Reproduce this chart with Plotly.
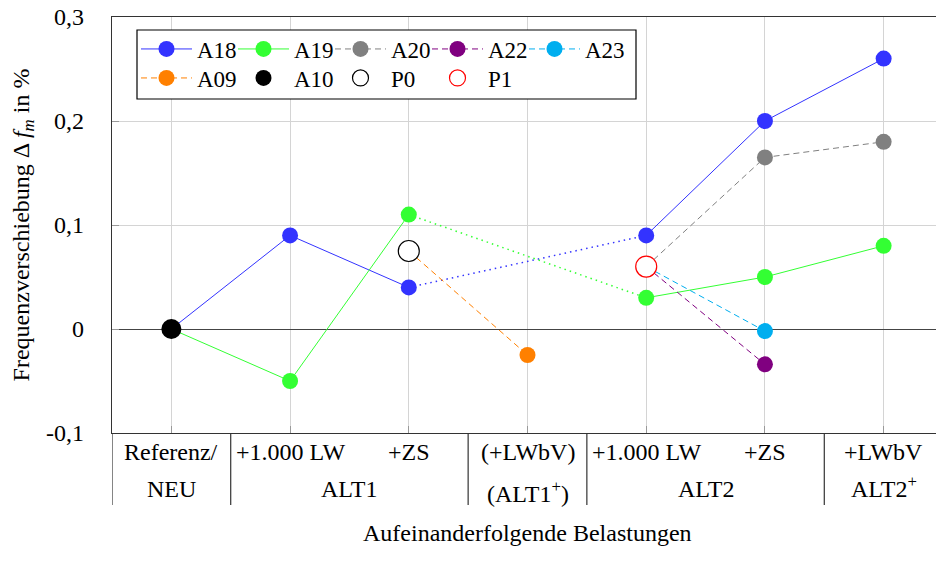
import plotly.graph_objects as go

# ---------------- data ----------------
stages = [0, 1, 2, 3, 4, 5, 6]
stage_labels = ["Referenz/", "+1.000 LW", "+ZS", "(+LWbV)", "+1.000 LW", "+ZS", "+LWbV"]
group_labels = ["NEU", "ALT1", "(ALT1<sup>+</sup>)", "ALT2", "ALT2<sup>+</sup>"]
group_spans = [(0, 0), (1, 2), (3, 3), (4, 5), (6, 6)]

A18 = [0.0, 0.09, 0.04, None, 0.09, 0.20, 0.26]
A19 = [0.0, -0.05, 0.11, None, 0.03, 0.05, 0.08]
P0 = 0.075   # at stage 2
P1 = 0.06    # at stage 4
A09 = -0.025  # at stage 3 (from P0)
A20 = [0.165, 0.18]  # stages 5, 6 (from P1)
A22 = -0.034  # stage 5 (from P1)
A23 = -0.002  # stage 5 (from P1)
A10 = 0.0     # stage 0

yticks = [-0.1, 0.0, 0.1, 0.2, 0.3]
yticktext = ["-0,1", "0", "0,1", "0,2", "0,3"]

# ---------------- style ----------------
FONT = "Liberation Serif"
FS = 24
C18 = "#3333ff"
C19 = "#33ff33"
C20 = "#808080"
C22 = "#800080"
C23 = "#00aeef"
C09 = "#ff8000"
MS = 16
DASH = "6px,4px"
DOT = "1.5px,4px"

fig = go.Figure()

# dotted connections across the gap
fig.add_trace(go.Scatter(x=[2, 4], y=[A18[2], A18[4]], mode="lines",
                         line=dict(color=C18, width=1.5, dash=DOT), showlegend=False, hoverinfo="skip"))
fig.add_trace(go.Scatter(x=[2, 4], y=[A19[2], A19[4]], mode="lines",
                         line=dict(color=C19, width=1.5, dash=DOT), showlegend=False, hoverinfo="skip"))

fig.add_trace(go.Scatter(x=stages, y=A18, mode="lines+markers", name="A18",
                         line=dict(color=C18, width=1), marker=dict(size=MS, color=C18),
                         legend="legend"))
fig.add_trace(go.Scatter(x=stages, y=A19, mode="lines+markers", name="A19",
                         line=dict(color=C19, width=1), marker=dict(size=MS, color=C19),
                         legend="legend"))
fig.add_trace(go.Scatter(x=[4, 5, 6], y=[P1] + A20, mode="lines+markers", name="A20",
                         line=dict(color=C20, width=1, dash=DASH),
                         marker=dict(size=MS, color=C20), legend="legend"))
fig.add_trace(go.Scatter(x=[4, 5], y=[P1, A22], mode="lines+markers", name="A22",
                         line=dict(color=C22, width=1, dash=DASH),
                         marker=dict(size=MS, color=C22), legend="legend"))
fig.add_trace(go.Scatter(x=[4, 5], y=[P1, A23], mode="lines+markers", name="A23",
                         line=dict(color=C23, width=1, dash=DASH),
                         marker=dict(size=MS, color=C23), legend="legend", legendwidth=46))
fig.add_trace(go.Scatter(x=[2, 3], y=[P0, A09], mode="lines+markers", name="A09",
                         line=dict(color=C09, width=1, dash=DASH),
                         marker=dict(size=MS, color=C09), legend="legend2"))
fig.add_trace(go.Scatter(x=[0], y=[A10], mode="markers", name="A10",
                         marker=dict(size=20, color="black"), legend="legend2"))
fig.add_trace(go.Scatter(x=[2], y=[P0], mode="markers", name="P0",
                         marker=dict(size=21, color="white", line=dict(color="black", width=1.2)),
                         legend="legend2"))
fig.add_trace(go.Scatter(x=[4], y=[P1], mode="markers", name="P1",
                         marker=dict(size=21, color="white", line=dict(color="red", width=1.2)),
                         legend="legend2", legendwidth=46))

# ---------------- layout ----------------
# page body has an 8px margin: figure is 936x556 drawn at (8, 8)
OFF = 8
W, H = 944 - OFF, 564 - OFF
L = 112 - OFF
T = 17 - OFF
B = H - (433 - OFF)
R = W - (943 - OFF)
pw = W - L - R
ph = H - T - B


def px2paper_x(rx):
    return (rx - OFF - L) / pw


def px2paper_y(ry):
    return (H - B - (ry - OFF)) / ph


shapes = []
# legend box
shapes.append(dict(type="rect", xref="paper", yref="paper",
                   x0=px2paper_x(137), x1=px2paper_x(636), y0=px2paper_y(99), y1=px2paper_y(30),
                   line=dict(color="black", width=1.2), fillcolor="white", layer="above"))
# table lines
bounds = sorted(set([s[0] - 0.5 for s in group_spans] + [s[1] + 0.5 for s in group_spans]))
for b in bounds:
    shapes.append(dict(type="line", xref="x", yref="paper", x0=b, x1=b,
                       y0=0, y1=px2paper_y(505), line=dict(color="#333", width=1.2)))

annotations = []
for s, lab in zip(stages, stage_labels):
    annotations.append(dict(x=s, y=px2paper_y(467), xref="x", yref="paper", text=lab,
                            showarrow=False, font=dict(family=FONT, size=FS, color="black")))
for (a, b), lab in zip(group_spans, group_labels):
    yy = 509 if "sup" in lab and "(" in lab else 504
    annotations.append(dict(x=(a + b) / 2, y=px2paper_y(yy), xref="x", yref="paper", text=lab,
                            showarrow=False, font=dict(family=FONT, size=FS, color="black")))
annotations.append(dict(x=3, y=px2paper_y(548), xref="x", yref="paper",
                        text="Aufeinanderfolgende Belastungen", showarrow=False,
                        font=dict(family=FONT, size=FS, color="black")))

LEG = dict(orientation="h", xanchor="left", yanchor="middle", bgcolor="rgba(0,0,0,0)",
           entrywidth=31, itemwidth=51, font=dict(family=FONT, size=23))
fig.update_layout(
    width=W, height=H,
    margin=dict(l=L, r=R, t=T, b=B, autoexpand=False),
    paper_bgcolor="white", plot_bgcolor="white",
    font=dict(family=FONT, size=FS, color="black"),
    shapes=shapes, annotations=annotations,
    legend=dict(LEG, x=px2paper_x(136), y=px2paper_y(49)),
    legend2=dict(LEG, x=px2paper_x(136), y=px2paper_y(78)),
)
fig.update_xaxes(range=[-0.5, 6.5], tickvals=stages, showticklabels=False, automargin=False,
                 showgrid=True, gridcolor="#d4d4d4", gridwidth=1,
                 showline=True, linecolor="#333", linewidth=1.2, mirror=True,
                 ticks="inside", ticklen=7, tickcolor="#999", zeroline=False)
fig.update_yaxes(range=[-0.1, 0.3], tickvals=yticks, ticktext=yticktext, automargin=False,
                 ticklabeloverflow="allow",
                 showgrid=True, gridcolor="#d4d4d4", gridwidth=1,
                 showline=True, linecolor="#333", linewidth=1.2, mirror=True,
                 ticks="inside", ticklen=7, tickcolor="#999",
                 zeroline=True, zerolinecolor="#444", zerolinewidth=1.3,
                 ticklabelstandoff=22,
                 title=dict(text="Frequenzverschiebung Δ <i>f</i><sub><i>m</i></sub> in %",
                            font=dict(family=FONT, size=FS), standoff=14))

fig.write_html("out.html")
